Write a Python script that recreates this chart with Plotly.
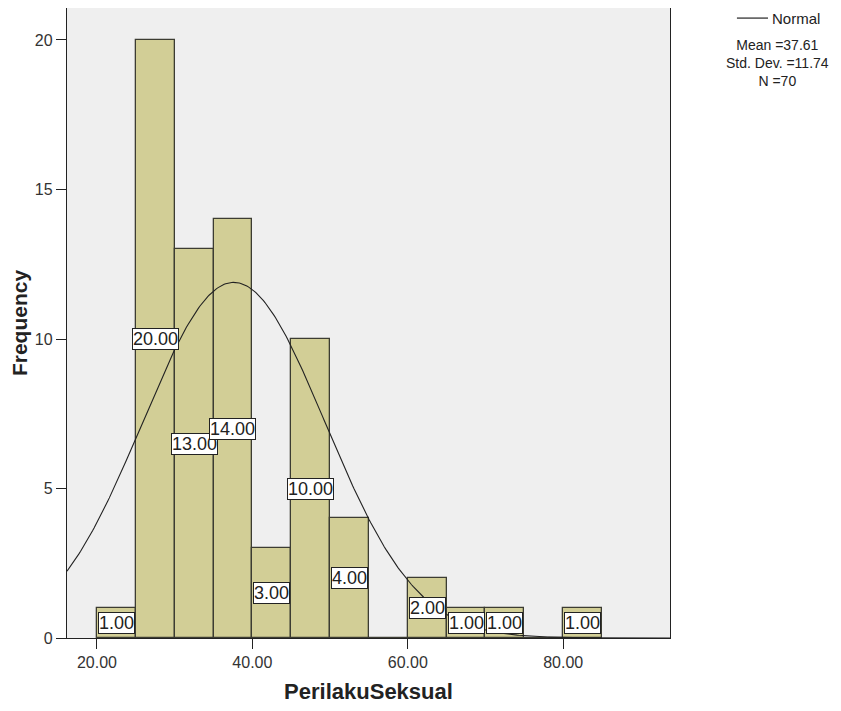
import numpy as np
import plotly.graph_objects as go

# Data
bin_starts = [20, 25, 30, 35, 40, 45, 50, 55, 60, 65, 70, 75, 80]
counts = [1, 20, 13, 14, 3, 10, 4, 0, 2, 1, 1, 0, 1]
bin_width = 5
mean_val = 37.61
std_val = 11.74
n_val = 70
x_ticks = [20, 40, 60, 80]
x_tick_labels = ["20.00", "40.00", "60.00", "80.00"]
y_ticks = [0, 5, 10, 15, 20]
stat_lines = [f"Mean ={mean_val:.2f}", f"Std. Dev. ={std_val:.2f}", f"N ={n_val}"]

centers = [s + bin_width / 2 for s in bin_starts]

FONT = "Arial, Liberation Sans, sans-serif"

fig = go.Figure()

fig.add_trace(go.Bar(
    x=centers, y=counts, width=bin_width,
    marker=dict(color="#D2CE96", line=dict(color="#3c3c32", width=1.3)),
    hoverinfo="skip", showlegend=False,
))

# Normal curve from reported mean / sd
xr = [16.14, 93.75]
xs = np.linspace(xr[0], xr[1], 400)
ys = n_val * bin_width / (std_val * np.sqrt(2 * np.pi)) * np.exp(-0.5 * ((xs - mean_val) / std_val) ** 2)
fig.add_trace(go.Scatter(x=xs, y=ys, mode="lines",
                         line=dict(color="#222222", width=1.1),
                         hoverinfo="skip", showlegend=False))

# Value labels
for c, v in zip(centers, counts):
    if v > 0:
        fig.add_annotation(x=c, y=v / 2, text=f"{v:.2f}", showarrow=False,
                           font=dict(family=FONT, size=18, color="#222"),
                           bgcolor="white", bordercolor="#222", borderwidth=1, borderpad=0)

# Legend-like text
fig.add_shape(type="line", xref="paper", yref="paper",
              x0=1.111, x1=1.1625, y0=0.984, y1=0.984,
              line=dict(color="#222", width=1.2))
fig.add_annotation(xref="paper", yref="paper", x=1.166, y=0.984, text="Normal",
                   showarrow=False, xanchor="left", yanchor="middle",
                   font=dict(family=FONT, size=15, color="#222"))
fig.add_annotation(xref="paper", yref="paper", x=1.1775, y=0.912,
                   text="<br>".join(stat_lines), align="center",
                   showarrow=False, xanchor="center", yanchor="middle",
                   font=dict(family=FONT, size=14, color="#222"))

fig.update_layout(
    width=833, height=703,
    margin=dict(l=59, r=171, t=0, b=73),
    paper_bgcolor="white", plot_bgcolor="#EFEFEF",
    bargap=0,
    font=dict(family=FONT, size=16, color="#333"),
    xaxis=dict(range=xr, tickvals=x_ticks, ticktext=x_tick_labels,
               ticks="outside", ticklen=10, tickcolor="#222", showgrid=False,
               zeroline=False, showline=True, linecolor="#222", linewidth=1.3, mirror=True,
               title=dict(text="<b>PerilakuSeksual</b>", font=dict(family=FONT, size=22, color="#222"), standoff=13),
               tickfont=dict(family=FONT, size=16, color="#333")),
    yaxis=dict(range=[0, 21.07], tickvals=y_ticks, ticks="outside", ticklen=10,
               tickcolor="#222", showgrid=False, zeroline=False, showline=True,
               linecolor="#222", linewidth=1.3, mirror=True,
               title=dict(text="<b>Frequency</b>", font=dict(family=FONT, size=21, color="#222"), standoff=10),
               tickfont=dict(family=FONT, size=16, color="#333")),
)

fig.write_html("out.html")
